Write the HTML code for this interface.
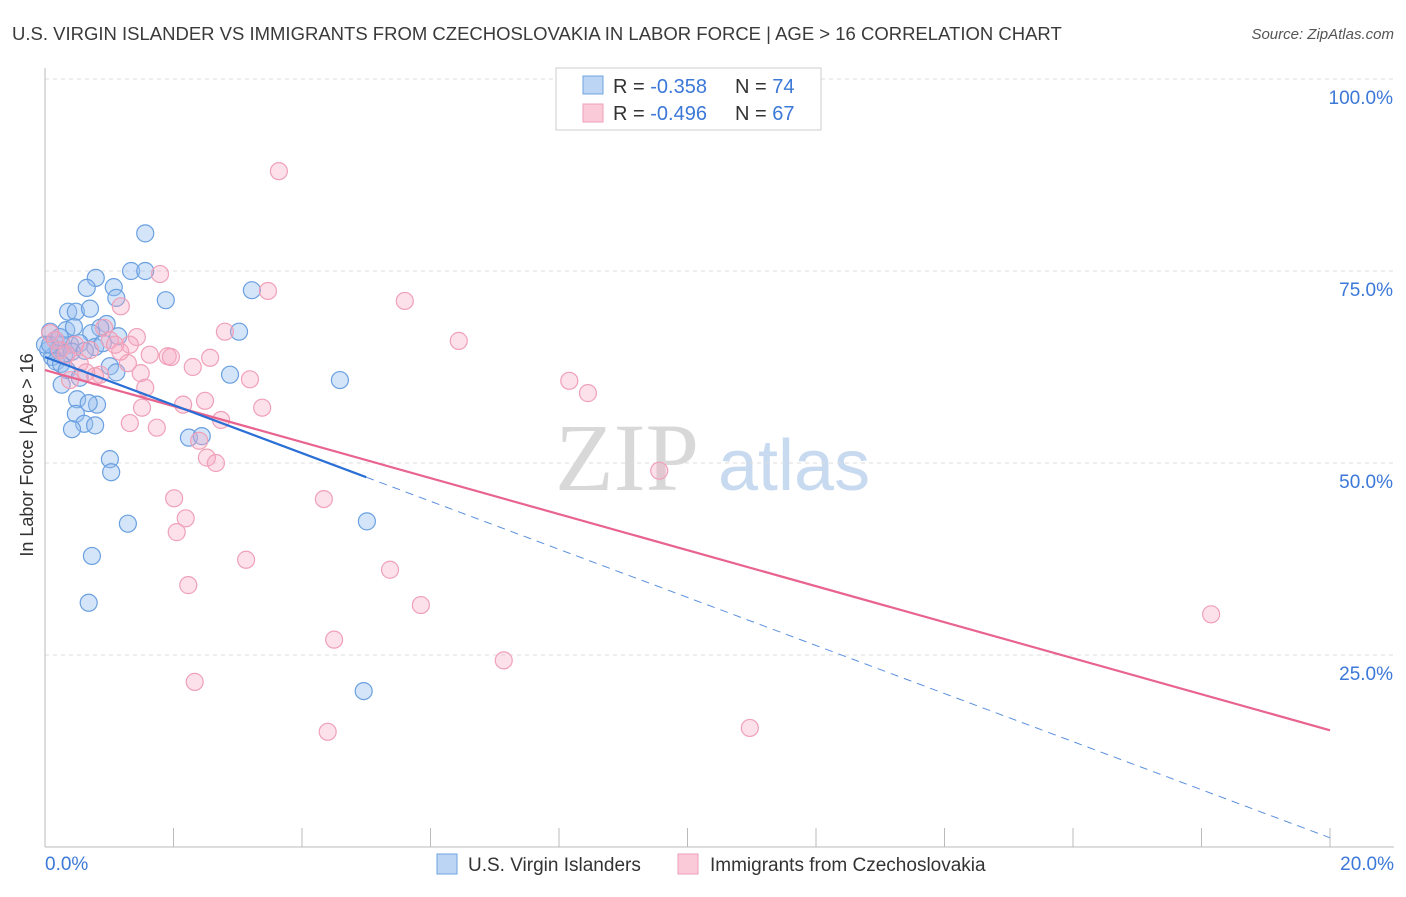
<!DOCTYPE html>
<html><head><meta charset="utf-8"><style>
body{margin:0;background:#fff;font-family:"Liberation Sans",sans-serif;}
</style></head><body>
<svg width="1406" height="892" xmlns="http://www.w3.org/2000/svg" id="chart">
<text x="12" y="40" font-size="18.5" fill="#3a3a3a">U.S. VIRGIN ISLANDER VS IMMIGRANTS FROM CZECHOSLOVAKIA IN LABOR FORCE | AGE &gt; 16 CORRELATION CHART</text>
<text x="1394" y="39" font-size="15" fill="#555" font-style="italic" text-anchor="end">Source: ZipAtlas.com</text>
<g>
<text x="555" y="490" font-family="Liberation Serif,serif" font-size="96" fill="#d8d8d8">ZIP</text>
<text x="718" y="490" font-size="72" fill="#c8daf0">atlas</text>
</g>
<g id="grid"></g>
<g id="axes"></g>
<g id="marks"></g>
<text transform="translate(33,455) rotate(-90)" font-size="18" fill="#333" text-anchor="middle">In Labor Force | Age &gt; 16</text>
<g>
<rect x="556" y="68" width="265" height="62" fill="#fff" stroke="#ccc"/>
<rect x="583" y="76" width="20" height="18" fill="#bcd5f5" stroke="#6fa3e0"/>
<rect x="583" y="104" width="20" height="18" fill="#fbcad8" stroke="#ef9fb8"/>
<text x="613" y="93" font-size="20" fill="#333">R = <tspan fill="#3b78d8">-0.358</tspan></text>
<text x="735" y="93" font-size="20" fill="#333">N = <tspan fill="#3b78d8">74</tspan></text>
<text x="613" y="120" font-size="20" fill="#333">R = <tspan fill="#3b78d8">-0.496</tspan></text>
<text x="735" y="120" font-size="20" fill="#333">N = <tspan fill="#3b78d8">67</tspan></text>
</g>
<g>
<rect x="437" y="854" width="20" height="20" fill="#bcd5f5" stroke="#6fa3e0"/>
<text x="468" y="871" font-size="19" fill="#333">U.S. Virgin Islanders</text>
<rect x="678" y="854" width="20" height="20" fill="#fbcad8" stroke="#ef9fb8"/>
<text x="710" y="871" font-size="19" fill="#333">Immigrants from Czechoslovakia</text>
</g>
</svg>
<script>
const xTicks=[0,2,4,6,8,10,12,14,16,18,20];
const yTicks=[25,50,75,100];
const yTickLabels=["25.0%","50.0%","75.0%","100.0%"];
const xEndLabels=["0.0%","20.0%"];
const blueX=[1.56,1.34,1.56,0.79,1.88,0.65,1.07,1.11,3.22,0.36,0.48,0.70,3.02,0.33,0.45,0.96,0.86,1.14,0.72,0.08,0.16,0.26,0.39,0.54,0.78,0.90,0.05,0.20,0.30,0.42,0.62,0.11,0.17,0.25,0.34,1.01,1.11,2.88,4.59,0.54,0.26,0.50,0.81,0.68,0.48,0.61,0.42,0.78,2.24,2.44,1.01,1.03,1.29,5.01,0.73,0.68,4.96,0.0,0.08,0.23];
const blueY=[79.9,75.0,75.0,74.1,71.2,72.8,72.9,71.5,72.5,69.7,69.7,70.1,67.1,67.3,67.7,68.1,67.6,66.5,66.9,67.1,66.0,65.4,65.4,65.6,65.1,65.6,64.7,64.7,64.1,64.5,64.6,63.8,63.2,62.9,62.1,62.6,61.8,61.5,60.8,61.1,60.2,58.3,57.6,57.8,56.4,55.1,54.4,54.9,53.3,53.5,50.5,48.8,42.1,42.4,37.9,31.8,20.3,65.4,65.4,66.4];
const pinkX=[3.64,1.79,3.47,5.60,1.18,6.44,2.80,1.43,0.92,1.32,1.63,1.91,1.96,2.57,2.30,3.19,8.16,8.45,1.49,1.29,0.86,1.56,2.49,3.38,1.51,2.15,1.32,1.74,2.74,2.40,2.52,2.66,9.56,2.01,4.34,2.19,2.05,3.13,5.37,2.23,5.85,4.50,18.15,7.14,2.33,4.40,10.97,0.08,0.16,0.23,0.33,0.47,0.70,1.01,1.17,0.39,0.78,0.54,0.64,1.09];
const pinkY=[88.0,74.6,72.4,71.1,70.4,65.9,67.1,66.4,67.6,65.4,64.1,63.9,63.8,63.7,62.5,60.9,60.7,59.1,61.7,63.0,61.5,59.8,58.1,57.2,57.2,57.6,55.2,54.6,55.6,52.9,50.7,50.0,49.0,45.4,45.3,42.8,41.0,37.4,36.1,34.1,31.5,27.0,30.3,24.3,21.5,15.0,15.5,66.9,66.0,64.7,64.1,65.4,64.7,66.0,64.5,60.8,61.3,63.0,61.8,65.4];
const blueTrend=[63.8,1.2];
const blueSolidEnd=5.0;
const pinkTrend=[62.1,15.2];

const NS="http://www.w3.org/2000/svg";
const sx=v=>45+v*64.25;
const sy=v=>847-v*7.68;
function mk(tag,attrs,parent){const e=document.createElementNS(NS,tag);for(const k in attrs)e.setAttribute(k,attrs[k]);document.getElementById(parent).appendChild(e);return e;}
yTicks.forEach((t,i)=>{
 const g=mk('line',{x1:45,x2:1394,y1:sy(t),y2:sy(t),stroke:'#ddd','stroke-dasharray':'4,4'},'grid');
 
 
 const l=mk('text',{x:1393,y:sy(t)+25,'font-size':19,fill:'#3b78d8','text-anchor':'end'},'axes');
 l.textContent=yTickLabels[i];
 
 
});
const xa=mk('line',{x1:45,x2:1394,y1:847,y2:847,stroke:'#bbb'},'axes');


const ya=mk('line',{x1:45,x2:45,y1:68,y2:847,stroke:'#bbb'},'axes');


xTicks.forEach(t=>{
 const k=mk('line',{x1:sx(t),x2:sx(t),y1:828,y2:847,stroke:'#bbb'},'axes');
 
 
});
[[0,'start',45],[20,'end',1394]].forEach((d,i)=>{
 const l=mk('text',{x:d[2],y:870,'font-size':19,fill:'#3b78d8','text-anchor':d[1]},'axes');
 l.textContent=xEndLabels[i];
 
 
});
blueX.forEach((x,i)=>{
 const c=mk('circle',{cx:sx(x),cy:sy(blueY[i]),r:8.5,fill:'rgba(150,190,240,0.4)',stroke:'#6aa0e0','stroke-width':1.2},'marks');
 
 
});
pinkX.forEach((x,i)=>{
 const c=mk('circle',{cx:sx(x),cy:sy(pinkY[i]),r:8.5,fill:'rgba(245,170,195,0.35)',stroke:'#f0a0b8','stroke-width':1.2},'marks');
 
 
});
const by=x=>blueTrend[0]+(blueTrend[1]-blueTrend[0])*x/20;
const py=x=>pinkTrend[0]+(pinkTrend[1]-pinkTrend[0])*x/20;
const p=mk('line',{x1:sx(0),y1:sy(py(0)),x2:sx(20),y2:sy(py(20)),stroke:'#e8648e','stroke-width':2.2},'marks');


const b1=mk('line',{x1:sx(0),y1:sy(by(0)),x2:sx(blueSolidEnd),y2:sy(by(blueSolidEnd)),stroke:'#2a6fd6','stroke-width':2.2},'marks');


const b2=mk('line',{x1:sx(blueSolidEnd),y1:sy(by(blueSolidEnd)),x2:sx(20),y2:sy(by(20)),stroke:'#5b90dd','stroke-width':1,'stroke-dasharray':'8,6'},'marks');


</script>
</body></html>
